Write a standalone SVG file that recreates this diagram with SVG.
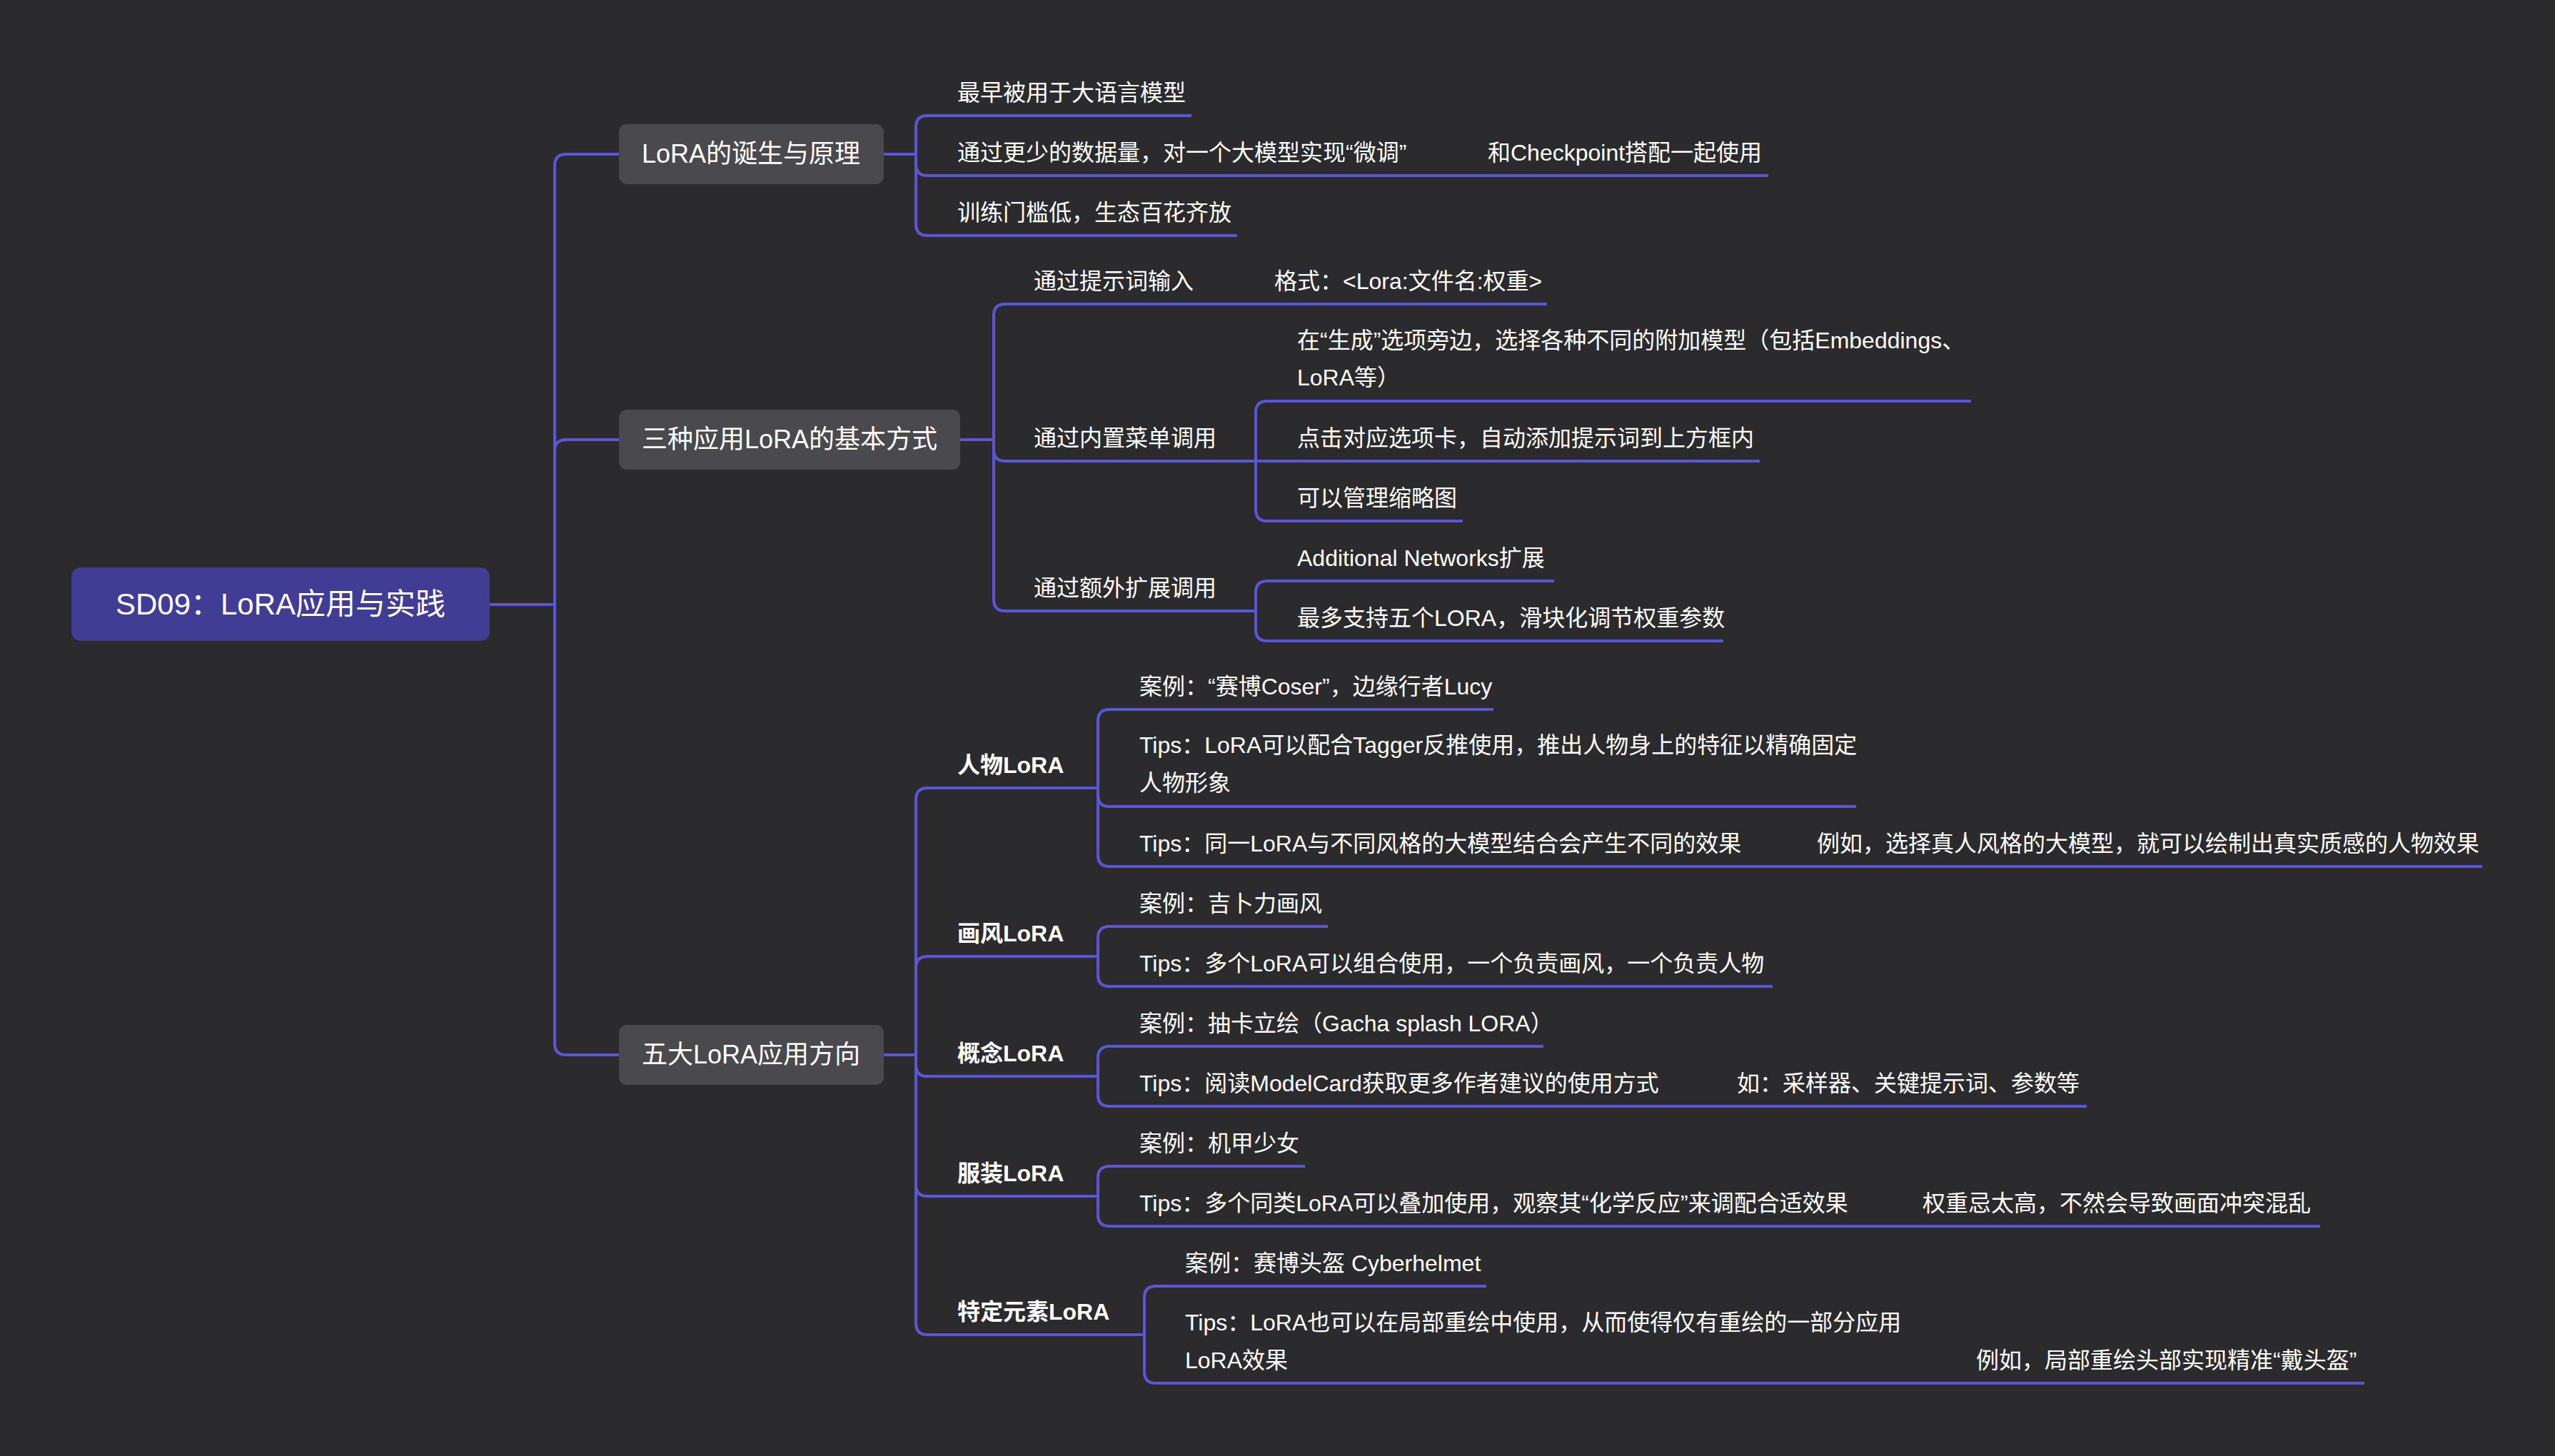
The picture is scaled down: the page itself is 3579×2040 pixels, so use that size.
<svg xmlns="http://www.w3.org/2000/svg" width="3579" height="2040" viewBox="0 0 3579 2040">
<style>
text{font-family:"Liberation Sans","Noto Sans CJK SC",sans-serif;fill:#ffffff}
.root{font-size:42px;text-anchor:middle}
.main{font-size:36px;text-anchor:middle}
.leaf{font-size:32px}
.sub{font-size:32px;font-weight:bold}
.ln{fill:none;stroke:#5B56D8;stroke-width:4}
.mbox{fill:#4A494E}
</style>
<rect x="0" y="0" width="3579" height="2040" fill="#2B2B2E"/>
<g id="connectors" class="ln">
<path d="M686 847H777"/>
<path d="M777 847V232Q777 216 793 216H867"/>
<path d="M777 847V632Q777 616 793 616H867"/>
<path d="M777 847V1462Q777 1478 793 1478H867"/>
<path d="M1238 216H1283"/>
<path d="M1283 216V178Q1283 162 1299 162H1669"/>
<path d="M1283 216V230Q1283 246 1299 246H2477"/>
<path d="M1283 216V314Q1283 330 1299 330H1733"/>
<path d="M1345 616H1392"/>
<path d="M1392 616V442Q1392 426 1408 426H2167"/>
<path d="M1392 616V630Q1392 646 1408 646H1759"/>
<path d="M1392 616V840Q1392 856 1408 856H1759"/>
<path d="M1759 646V578Q1759 562 1775 562H2761"/>
<path d="M1759 646H2465"/>
<path d="M1759 646V714Q1759 730 1775 730H2049"/>
<path d="M1759 856V830Q1759 814 1775 814H2177"/>
<path d="M1759 856V882Q1759 898 1775 898H2414"/>
<path d="M1238 1478H1283"/>
<path d="M1283 1478V1120Q1283 1104 1299 1104H1538"/>
<path d="M1283 1478V1356Q1283 1340 1299 1340H1538"/>
<path d="M1283 1478V1492Q1283 1508 1299 1508H1538"/>
<path d="M1283 1478V1660Q1283 1676 1299 1676H1538"/>
<path d="M1283 1478V1854Q1283 1870 1299 1870H1603"/>
<path d="M1538 1104V1010Q1538 994 1554 994H2092"/>
<path d="M1538 1104V1114Q1538 1130 1554 1130H2600"/>
<path d="M1538 1104V1198Q1538 1214 1554 1214H3477"/>
<path d="M1538 1340V1314Q1538 1298 1554 1298H1860"/>
<path d="M1538 1340V1366Q1538 1382 1554 1382H2483"/>
<path d="M1538 1508V1482Q1538 1466 1554 1466H2162"/>
<path d="M1538 1508V1534Q1538 1550 1554 1550H2923"/>
<path d="M1538 1676V1650Q1538 1634 1554 1634H1828"/>
<path d="M1538 1676V1702Q1538 1718 1554 1718H3250"/>
<path d="M1603 1870V1818Q1603 1802 1619 1802H2082"/>
<path d="M1603 1870V1922Q1603 1938 1619 1938H3312"/>
</g>
<g id="root"><rect x="100" y="795" width="586" height="103" rx="13" fill="#413D95"/><text class="root" x="393" y="861">SD09：LoRA应用与实践</text></g>
<g id="n1"><rect class="mbox" x="867" y="174" width="371" height="84" rx="11"/><text class="main" x="1052" y="228">LoRA的诞生与原理</text></g>
<g id="n2"><rect class="mbox" x="867" y="574" width="478" height="84" rx="11"/><text class="main" x="1106" y="628">三种应用LoRA的基本方式</text></g>
<g id="n3"><rect class="mbox" x="867" y="1436" width="371" height="84" rx="11"/><text class="main" x="1052" y="1490">五大LoRA应用方向</text></g>
<g id="n1a"><text class="leaf" x="1341" y="141">最早被用于大语言模型</text></g>
<g id="n1b"><text class="leaf" x="1341" y="225">通过更少的数据量，对一个大模型实现“微调”</text></g>
<g id="n1b1"><text class="leaf" x="2084" y="225">和Checkpoint搭配一起使用</text></g>
<g id="n1c"><text class="leaf" x="1341" y="309">训练门槛低，生态百花齐放</text></g>
<g id="n2a"><text class="leaf" x="1448" y="405">通过提示词输入</text></g>
<g id="n2a1"><text class="leaf" x="1785" y="405">格式：&lt;Lora:文件名:权重&gt;</text></g>
<g id="n2b"><text class="leaf" x="1448" y="625">通过内置菜单调用</text></g>
<g id="n2b1"><text class="leaf" x="1817" y="488">在“生成”选项旁边，选择各种不同的附加模型（包括Embeddings、</text><text class="leaf" x="1817" y="540">LoRA等）</text></g>
<g id="n2b2"><text class="leaf" x="1817" y="625">点击对应选项卡，自动添加提示词到上方框内</text></g>
<g id="n2b3"><text class="leaf" x="1817" y="709">可以管理缩略图</text></g>
<g id="n2c"><text class="leaf" x="1448" y="835">通过额外扩展调用</text></g>
<g id="n2c1"><text class="leaf" x="1817" y="793">Additional Networks扩展</text></g>
<g id="n2c2"><text class="leaf" x="1817" y="877">最多支持五个LORA，滑块化调节权重参数</text></g>
<g id="n3a"><text class="sub" x="1341" y="1083">人物LoRA</text></g>
<g id="n3a1"><text class="leaf" x="1596" y="973">案例：“赛博Coser”，边缘行者Lucy</text></g>
<g id="n3a2"><text class="leaf" x="1596" y="1055">Tips：LoRA可以配合Tagger反推使用，推出人物身上的特征以精确固定</text><text class="leaf" x="1596" y="1108">人物形象</text></g>
<g id="n3a3"><text class="leaf" x="1596" y="1193">Tips：同一LoRA与不同风格的大模型结合会产生不同的效果</text></g>
<g id="n3a3a"><text class="leaf" x="2545" y="1193">例如，选择真人风格的大模型，就可以绘制出真实质感的人物效果</text></g>
<g id="n3b"><text class="sub" x="1341" y="1319">画风LoRA</text></g>
<g id="n3b1"><text class="leaf" x="1596" y="1277">案例：吉卜力画风</text></g>
<g id="n3b2"><text class="leaf" x="1596" y="1361">Tips：多个LoRA可以组合使用，一个负责画风，一个负责人物</text></g>
<g id="n3c"><text class="sub" x="1341" y="1487">概念LoRA</text></g>
<g id="n3c1"><text class="leaf" x="1596" y="1445">案例：抽卡立绘（Gacha splash LORA）</text></g>
<g id="n3c2"><text class="leaf" x="1596" y="1529">Tips：阅读ModelCard获取更多作者建议的使用方式</text></g>
<g id="n3c2a"><text class="leaf" x="2433" y="1529">如：采样器、关键提示词、参数等</text></g>
<g id="n3d"><text class="sub" x="1341" y="1655">服装LoRA</text></g>
<g id="n3d1"><text class="leaf" x="1596" y="1613">案例：机甲少女</text></g>
<g id="n3d2"><text class="leaf" x="1596" y="1697">Tips：多个同类LoRA可以叠加使用，观察其“化学反应”来调配合适效果</text></g>
<g id="n3d2a"><text class="leaf" x="2693" y="1697">权重忌太高，不然会导致画面冲突混乱</text></g>
<g id="n3e"><text class="sub" x="1341" y="1849">特定元素LoRA</text></g>
<g id="n3e1"><text class="leaf" x="1660" y="1781">案例：赛博头盔 Cyberhelmet</text></g>
<g id="n3e2"><text class="leaf" x="1660" y="1864">Tips：LoRA也可以在局部重绘中使用，从而使得仅有重绘的一部分应用</text><text class="leaf" x="1660" y="1917">LoRA效果</text></g>
<g id="n3e2a"><text class="leaf" x="2768" y="1917">例如，局部重绘头部实现精准“戴头盔”</text></g>
</svg>
